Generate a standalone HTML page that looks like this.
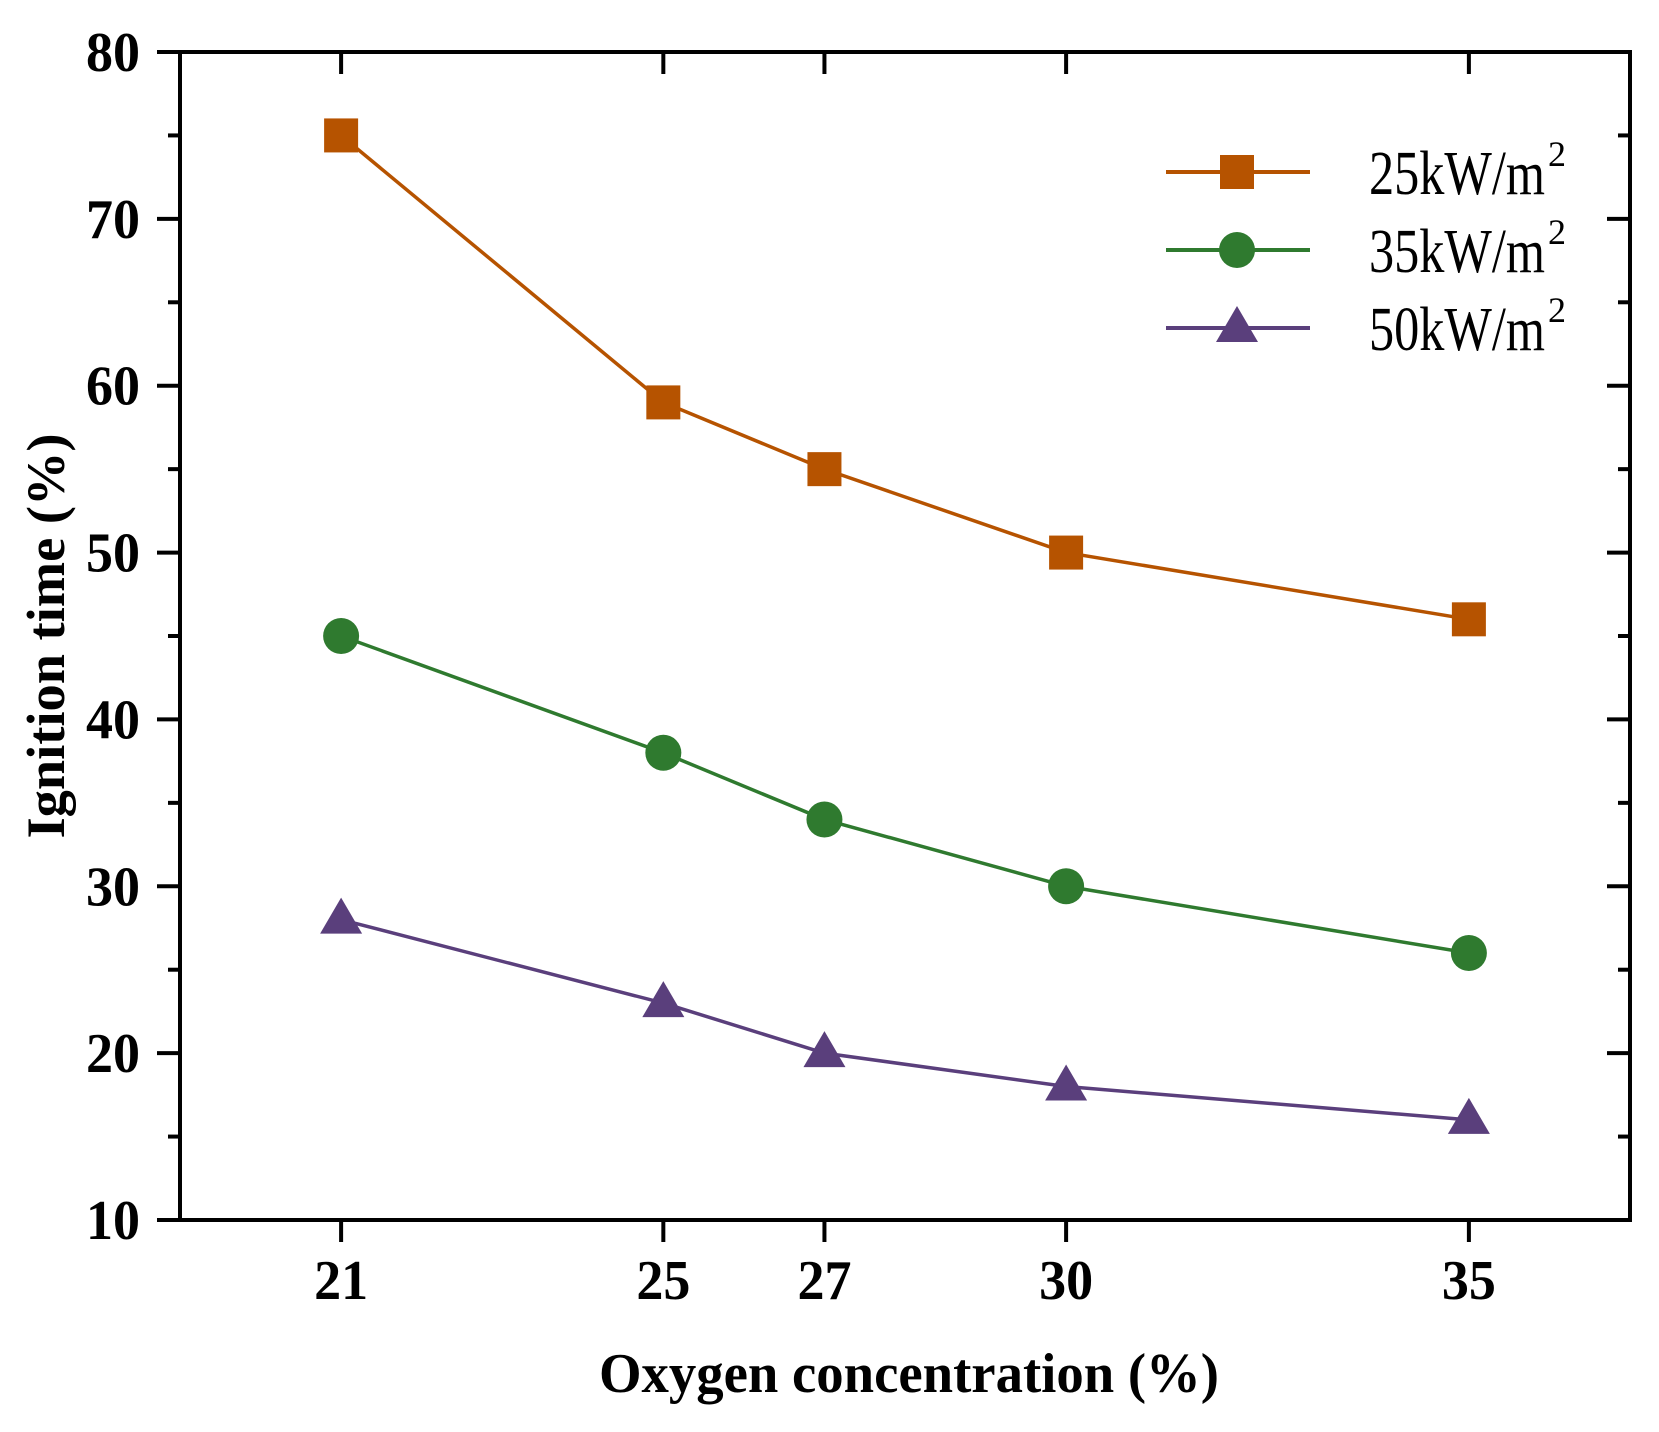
<!DOCTYPE html>
<html><head><meta charset="utf-8"><style>
html,body{margin:0;padding:0;background:#fff;}
svg{display:block;}
</style></head><body>
<svg id="chart" width="1659" height="1432" viewBox="0 0 1659 1432" xmlns="http://www.w3.org/2000/svg" font-family="'Liberation Serif', serif">
<g id="axes"></g>
<g id="series"></g>
<g id="legend"></g>
</svg>
<script>
const categories = [21, 25, 27, 30, 35];
const series25 = [75, 59, 55, 50, 46];
const series35 = [45, 38, 34, 30, 26];
const series50 = [28, 23, 20, 18, 16];
const yTicks = [10, 20, 30, 40, 50, 60, 70, 80];
const yMinor = [15, 25, 35, 45, 55, 65, 75];
const seriesNames = ["25kW/m", "35kW/m", "50kW/m"];

const NS = "http://www.w3.org/2000/svg";
const L = 180, R = 1630, T = 52, B = 1220;
const xMin = 19, xMax = 37, yMin = 10, yMax = 80;
function xs(v){ return L + (v - xMin) / (xMax - xMin) * (R - L); }
function ys(v){ return B - (v - yMin) / (yMax - yMin) * (B - T); }
function mk(tag, attrs, parent){
  const e = document.createElementNS(NS, tag);
  for (const k in attrs) e.setAttribute(k, attrs[k]);
  parent.appendChild(e);
  return e;
}
const axes = document.getElementById('axes');
const sg = document.getElementById('series');
const lg = document.getElementById('legend');

let frame = mk('rect', {x:L, y:T, width:R-L, height:B-T, fill:'none', stroke:'#000', 'stroke-width':4}, axes);



yTicks.forEach(v => {
  const y = ys(v);
  let t = mk('line', {x1:L-23, x2:L, y1:y, y2:y, stroke:'#000', 'stroke-width':4}, axes);
  
  
  let t2 = mk('line', {x1:R, x2:R-23, y1:y, y2:y, stroke:'#000', 'stroke-width':4}, axes);
  
  
  let lb = mk('text', {x:140, y:y+19, 'text-anchor':'end', 'font-size':56, 'font-weight':'bold', fill:'#000', textLength:54, lengthAdjust:'spacingAndGlyphs'}, axes);
  lb.textContent = v;
  
  
});
yMinor.forEach(v => {
  const y = ys(v);
  let t = mk('line', {x1:L-12, x2:L, y1:y, y2:y, stroke:'#000', 'stroke-width':4}, axes);
  
  
  let t2 = mk('line', {x1:R, x2:R-12, y1:y, y2:y, stroke:'#000', 'stroke-width':4}, axes);
  
  
});
categories.forEach(c => {
  const x = xs(c);
  let t = mk('line', {x1:x, x2:x, y1:B, y2:B+22, stroke:'#000', 'stroke-width':4}, axes);
  
  
  let t2 = mk('line', {x1:x, x2:x, y1:T, y2:T+22, stroke:'#000', 'stroke-width':4}, axes);
  
  
  let lb = mk('text', {x:x, y:1299, 'text-anchor':'middle', 'font-size':56, 'font-weight':'bold', fill:'#000', textLength:54, lengthAdjust:'spacingAndGlyphs'}, axes);
  lb.textContent = c;
  
  
});
let xt = mk('text', {x:909, y:1392, 'text-anchor':'middle', 'font-size':56, 'font-weight':'bold', fill:'#000', textLength:620, lengthAdjust:'spacingAndGlyphs'}, axes);
xt.textContent = 'Oxygen concentration (%)';


let yt = mk('text', {x:0, y:0, transform:'translate(64,636) rotate(-90)', 'text-anchor':'middle', 'font-size':54, 'font-weight':'bold', fill:'#000', textLength:405, lengthAdjust:'spacingAndGlyphs'}, axes);
yt.textContent = 'Ignition time (%)';



const colors = ['#B65300', '#2F7A2F', '#5A3F7C'];
const allSeries = [series25, series35, series50];
function marker(kind, x, y, color, parent){
  let m;
  if (kind === 0) m = mk('rect', {x:x-17, y:y-17, width:34, height:34, fill:color}, parent);
  else if (kind === 1) m = mk('circle', {cx:x, cy:y, r:18, fill:color}, parent);
  else m = mk('polygon', {points:`${x},${y-22} ${x+21},${y+14} ${x-21},${y+14}`, fill:color}, parent);
  return m;
}
allSeries.forEach((vals, si) => {
  const pts = vals.map((v, i) => xs(categories[i]) + ',' + ys(v)).join(' ');
  let pl = mk('polyline', {points:pts, fill:'none', stroke:colors[si], 'stroke-width':3.5}, sg);
  
  
  vals.forEach((v, i) => {
    let m = marker(si, xs(categories[i]), ys(v), colors[si], sg);
    
    
  });
  const ly = 172 + si * 78;
  let ll = mk('line', {x1:1166, x2:1310, y1:ly, y2:ly, stroke:colors[si], 'stroke-width':4}, lg);
  
  
  let lm = marker(si, 1237, ly, colors[si], lg);
  
  
  let tx = mk('text', {x:1369, y:ly+22, 'font-size':62, fill:'#000', textLength:176, lengthAdjust:'spacingAndGlyphs'}, lg);
  tx.textContent = seriesNames[si];
  
  
  let sup = mk('text', {x:1548, y:ly-6, 'font-size':36, fill:'#000'}, lg);
  sup.textContent = '2';
  
  
});
</script>
</body></html>
